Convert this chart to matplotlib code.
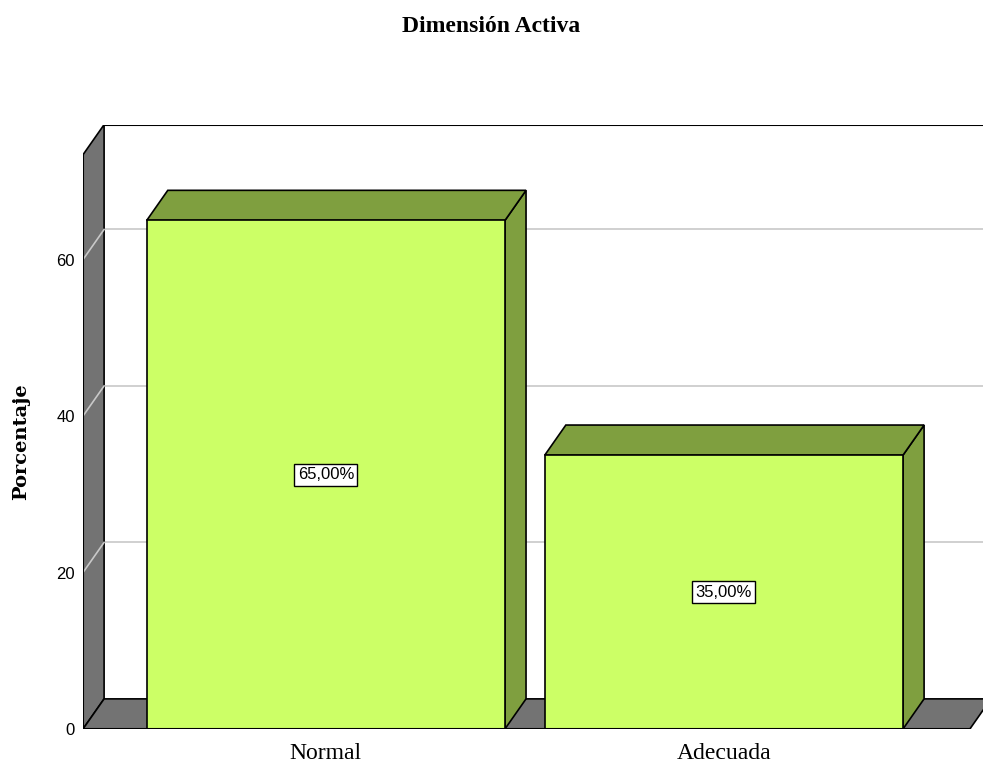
import matplotlib.pyplot as plt
from matplotlib.patches import Polygon

# Data
categories = ["Normal", "Adecuada"]
percentages = [65.0, 35.0]
bar_labels = ["65,00%", "35,00%"]
y_ticks = [0, 20, 40, 60]

title = "Dimensión Activa"
y_title = "Porcentaje"

# Colors
front_color = "#ccff66"
side_color = "#7f9f3f"
wall_color = "#737373"
grid_color = "#c8c8c8"

# 3D geometry (data units)
bar_w = 0.9
dx, dy = 0.053, 3.85
x_left, x_right = -0.61, 1.618
y_top = 73.4

fig = plt.figure(figsize=(9.83, 7.69), dpi=100)
ax = fig.add_axes([83 / 983, 40 / 769, 900 / 983, 604 / 769])
ax.set_xlim(x_left, 1.651)
ax.set_ylim(0, 77.2)
for s in ax.spines.values():
    s.set_visible(False)

# back wall
ax.add_patch(Polygon([(x_left + dx, dy), (2.0, dy), (2.0, y_top + dy),
                      (x_left + dx, y_top + dy)],
                     closed=True, facecolor="white", edgecolor="none", zorder=0))
ax.plot([x_left + dx, 2.0], [y_top + dy, y_top + dy], color="black", lw=1.5, zorder=1)

# left wall
ax.add_patch(Polygon([(x_left, 0), (x_left, y_top), (x_left + dx, y_top + dy),
                      (x_left + dx, dy)],
                     closed=True, facecolor=wall_color, edgecolor="black", lw=1.2, zorder=1))

# floor
ax.add_patch(Polygon([(x_left, 0), (x_right, 0), (x_right + dx, dy), (x_left + dx, dy)],
                     closed=True, facecolor=wall_color, edgecolor="black", lw=1.2, zorder=1))

# gridlines
for v in y_ticks[1:]:
    ax.plot([x_left + dx, 2.0], [v + dy, v + dy], color=grid_color, lw=1.2, zorder=0.5)
    ax.plot([x_left, x_left + dx], [v, v + dy], color=grid_color, lw=1.2, zorder=1.5)

# bars
xs = list(range(len(categories)))
ax.bar(xs, percentages, width=bar_w, color=front_color, edgecolor="black",
       linewidth=1.2, zorder=3)
for x, v in zip(xs, percentages):
    l, r = x - bar_w / 2, x + bar_w / 2
    ax.add_patch(Polygon([(r, 0), (r + dx, dy), (r + dx, v + dy), (r, v)],
                         closed=True, facecolor=side_color, edgecolor="black",
                         lw=1.2, zorder=2.5))
    ax.add_patch(Polygon([(l, v), (r, v), (r + dx, v + dy), (l + dx, v + dy)],
                         closed=True, facecolor=side_color, edgecolor="black",
                         lw=1.2, zorder=2.5))

for x, v, lab in zip(xs, percentages, bar_labels):
    ax.text(x, v / 2, lab, ha="center", va="center", fontsize=12,
            family="Liberation Sans", zorder=5,
            bbox=dict(boxstyle="square,pad=0.2", facecolor="white",
                      edgecolor="black", lw=1))

# front axis lines
ax.plot([x_left, x_left], [0, y_top], color="black", lw=1.5, zorder=4)
ax.plot([x_left, x_right], [0, 0], color="black", lw=1.5, zorder=4)

ax.set_yticks(y_ticks)
ax.set_yticklabels([str(t) for t in y_ticks], family="Liberation Sans", fontsize=12)
ax.set_xticks(xs)
ax.set_xticklabels(categories, family="Liberation Serif", fontsize=17)
ax.tick_params(axis="y", length=0, pad=6)
ax.tick_params(axis="x", length=0, pad=10)

fig.text(0.5, 1 - 27 / 769, title, ha="center", va="center",
         family="Liberation Serif", fontweight="bold", fontsize=17)
fig.text(21 / 983, 1 - 442 / 769, y_title, ha="center", va="center", rotation=90,
         family="DejaVu Serif", fontweight="bold", fontsize=14)

fig.savefig("out.png", dpi=100)
